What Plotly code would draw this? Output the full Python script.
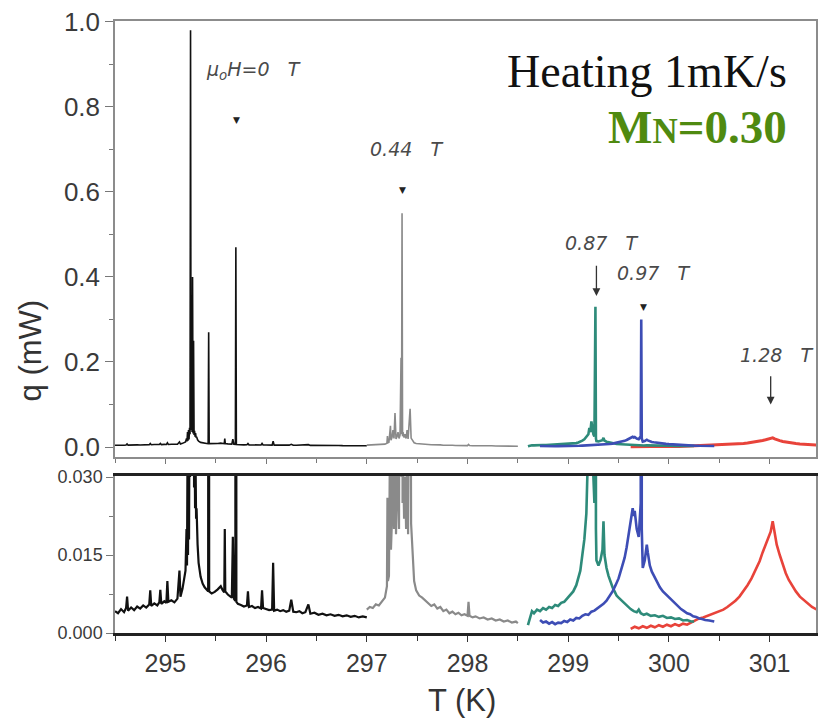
import plotly.graph_objects as go

# ---------------- data ----------------
T_0T = [294.50, 294.53, 294.56, 294.59, 294.61, 294.62, 294.63, 294.66, 294.69, 294.72,
        294.75, 294.78, 294.81, 294.84, 294.85, 294.86, 294.89, 294.92, 294.94, 294.95,
        294.96, 294.99, 295.01, 295.02, 295.03, 295.06, 295.09, 295.12, 295.14, 295.15,
        295.17, 295.19, 295.20, 295.21, 295.215, 295.22, 295.225, 295.23, 295.235, 295.24,
        295.245, 295.25, 295.255, 295.26, 295.265, 295.27, 295.275, 295.28, 295.285, 295.29,
        295.295, 295.30, 295.305, 295.31, 295.32, 295.33, 295.35, 295.37, 295.39, 295.41,
        295.425, 295.43, 295.435, 295.46, 295.49, 295.52, 295.55, 295.57, 295.585, 295.59,
        295.595, 295.62, 295.64, 295.66, 295.67, 295.68, 295.695, 295.70, 295.705, 295.72,
        295.75, 295.78, 295.81, 295.82, 295.83, 295.86, 295.89, 295.92, 295.95, 295.96,
        295.97, 296.00, 296.03, 296.06, 296.07, 296.08, 296.11, 296.14, 296.17, 296.20,
        296.23, 296.25, 296.27, 296.30, 296.33, 296.36, 296.39, 296.42, 296.44, 296.48,
        296.52, 296.56, 296.60, 296.64, 296.68, 296.72, 296.76, 296.80, 296.84, 296.88,
        296.92, 296.96, 297.00]
q_0T = [0.0042, 0.0038, 0.0046, 0.0040, 0.0048, 0.0070, 0.0043, 0.0049, 0.0044, 0.0051,
        0.0047, 0.0053, 0.0049, 0.0055, 0.0082, 0.0052, 0.0057, 0.0053, 0.0059, 0.0083,
        0.0056, 0.0061, 0.0058, 0.0100, 0.0060, 0.0063, 0.0059, 0.0066, 0.0120, 0.0070,
        0.0085, 0.0110, 0.0120, 0.0200, 0.0130, 0.0350, 0.0150, 0.0400, 0.0180, 0.0450,
        0.0300, 0.9800, 0.0400, 0.2600, 0.0350, 0.4000, 0.0320, 0.2500, 0.0280, 0.0380,
        0.0240, 0.0330, 0.0220, 0.0240, 0.0170, 0.0135, 0.0108, 0.0095, 0.0088, 0.0082,
        0.0080, 0.2700, 0.0080, 0.0076, 0.0079, 0.0084, 0.0090, 0.0082, 0.0078, 0.0200,
        0.0080, 0.0074, 0.0070, 0.0068, 0.0185, 0.0066, 0.0062, 0.4700, 0.0060, 0.0056,
        0.0054, 0.0051, 0.0053, 0.0080, 0.0050, 0.0052, 0.0048, 0.0050, 0.0047, 0.0082,
        0.0048, 0.0046, 0.0044, 0.0045, 0.0135, 0.0043, 0.0045, 0.0042, 0.0044, 0.0041,
        0.0043, 0.0064, 0.0041, 0.0040, 0.0042, 0.0038, 0.0040, 0.0055, 0.0037, 0.0039,
        0.0035, 0.0037, 0.0034, 0.0036, 0.0033, 0.0035, 0.0032, 0.0034, 0.0031, 0.0033,
        0.0030, 0.0032, 0.0030]

T_044T = [297.00, 297.03, 297.06, 297.09, 297.12, 297.15, 297.18, 297.20, 297.205, 297.21,
          297.22, 297.235, 297.24, 297.25, 297.26, 297.27, 297.28, 297.29, 297.30, 297.31,
          297.32, 297.33, 297.34, 297.345, 297.35, 297.355, 297.36, 297.37, 297.38, 297.39,
          297.40, 297.41, 297.43, 297.44, 297.45, 297.46, 297.47, 297.49, 297.52, 297.55,
          297.58, 297.61, 297.64, 297.67, 297.70, 297.73, 297.76, 297.79, 297.82, 297.85,
          297.88, 297.91, 297.94, 297.97, 298.00, 298.01, 298.02, 298.05, 298.08, 298.12,
          298.16, 298.20, 298.24, 298.28, 298.32, 298.36, 298.40, 298.44, 298.48, 298.50]
q_044T = [0.0045, 0.0050, 0.0048, 0.0055, 0.0053, 0.0060, 0.0068, 0.0090, 0.0260, 0.0100,
          0.0110, 0.0500, 0.0160, 0.0220, 0.0400, 0.0200, 0.0800, 0.0190, 0.0240, 0.0350,
          0.0200, 0.0280, 0.2100, 0.0300, 0.5500, 0.0250, 0.0350, 0.0220, 0.0300, 0.0200,
          0.0400, 0.0190, 0.0900, 0.0210, 0.0180, 0.0130, 0.0100, 0.0082, 0.0072, 0.0068,
          0.0062, 0.0058, 0.0052, 0.0055, 0.0047, 0.0050, 0.0042, 0.0045, 0.0038, 0.0041,
          0.0036, 0.0039, 0.0034, 0.0036, 0.0033, 0.0060, 0.0033, 0.0030, 0.0032, 0.0028,
          0.0030, 0.0026, 0.0028, 0.0024, 0.0026, 0.0022, 0.0024, 0.0020, 0.0022, 0.0019]

T_087T = [298.60, 298.62, 298.64, 298.66, 298.69, 298.72, 298.75, 298.78, 298.81, 298.84,
          298.87, 298.90, 298.93, 298.96, 298.99, 299.02, 299.05, 299.08, 299.10, 299.12,
          299.14, 299.16, 299.18, 299.20, 299.21, 299.22, 299.23, 299.24, 299.25, 299.26,
          299.27, 299.275, 299.28, 299.30, 299.32, 299.34, 299.35, 299.36, 299.38, 299.40,
          299.42, 299.44, 299.46, 299.48, 299.50, 299.53, 299.56, 299.59, 299.62, 299.65,
          299.68, 299.70, 299.72, 299.75, 299.78, 299.82, 299.86, 299.90, 299.94, 299.98,
          300.02, 300.06, 300.10, 300.14, 300.18, 300.22, 300.25]
q_087T = [0.0015, 0.0030, 0.0042, 0.0038, 0.0045, 0.0042, 0.0048, 0.0045, 0.0050, 0.0048,
          0.0054, 0.0052, 0.0058, 0.0060, 0.0066, 0.0072, 0.0080, 0.0092, 0.0105, 0.0120,
          0.0150, 0.0180, 0.0230, 0.0300, 0.0450, 0.0350, 0.0600, 0.0400, 0.0300, 0.0250,
          0.3300, 0.0200, 0.0140, 0.0130, 0.0140, 0.0160, 0.0215, 0.0150, 0.0125, 0.0110,
          0.0098, 0.0088, 0.0080, 0.0072, 0.0068, 0.0062, 0.0058, 0.0050, 0.0046, 0.0042,
          0.0040, 0.0045, 0.0038, 0.0035, 0.0037, 0.0033, 0.0034, 0.0031, 0.0033, 0.0029,
          0.0030, 0.0027, 0.0028, 0.0024, 0.0025, 0.0022, 0.0022]

T_097T = [298.72, 298.75, 298.78, 298.81, 298.84, 298.87, 298.90, 298.93, 298.96, 298.99,
          299.02, 299.05, 299.08, 299.11, 299.14, 299.17, 299.20, 299.23, 299.26, 299.29,
          299.32, 299.35, 299.38, 299.41, 299.44, 299.47, 299.50, 299.53, 299.56, 299.58,
          299.60, 299.62, 299.64, 299.65, 299.66, 299.68, 299.70, 299.72, 299.725, 299.73,
          299.74, 299.76, 299.78, 299.79, 299.81, 299.83, 299.85, 299.88, 299.91, 299.94,
          299.97, 300.00, 300.03, 300.06, 300.09, 300.12, 300.15, 300.18, 300.21, 300.24,
          300.27, 300.30, 300.33, 300.36, 300.40, 300.45]
q_097T = [0.0025, 0.0020, 0.0022, 0.0018, 0.0021, 0.0017, 0.0020, 0.0019, 0.0023, 0.0021,
          0.0026, 0.0024, 0.0029, 0.0028, 0.0033, 0.0036, 0.0035, 0.0041, 0.0043, 0.0047,
          0.0051, 0.0056, 0.0062, 0.0070, 0.0080, 0.0092, 0.0105, 0.0125, 0.0145, 0.0165,
          0.0190, 0.0215, 0.0240, 0.0225, 0.0235, 0.0200, 0.0185, 0.0250, 0.3000, 0.0200,
          0.0125, 0.0140, 0.0170, 0.0155, 0.0130, 0.0118, 0.0110, 0.0098, 0.0088, 0.0080,
          0.0074, 0.0068, 0.0062, 0.0056, 0.0050, 0.0046, 0.0042, 0.0038, 0.0036, 0.0032,
          0.0031, 0.0028, 0.0027, 0.0025, 0.0024, 0.0022]

T_128T = [299.62, 299.66, 299.70, 299.74, 299.78, 299.82, 299.86, 299.90, 299.94, 299.98,
          300.02, 300.06, 300.10, 300.14, 300.18, 300.22, 300.26, 300.30, 300.34, 300.38,
          300.42, 300.46, 300.50, 300.54, 300.58, 300.62, 300.66, 300.70, 300.74, 300.78,
          300.82, 300.86, 300.90, 300.93, 300.96, 300.99, 301.01, 301.03, 301.05, 301.07,
          301.10, 301.13, 301.16, 301.19, 301.22, 301.26, 301.30, 301.34, 301.38, 301.42,
          301.46, 301.50]
q_128T = [0.0008, 0.0012, 0.0009, 0.0013, 0.0010, 0.0014, 0.0011, 0.0015, 0.0012, 0.0016,
          0.0013, 0.0017, 0.0014, 0.0018, 0.0016, 0.0020, 0.0024, 0.0028, 0.0030, 0.0033,
          0.0036, 0.0038, 0.0042, 0.0045, 0.0050, 0.0056, 0.0062, 0.0070, 0.0080, 0.0092,
          0.0105, 0.0120, 0.0138, 0.0155, 0.0170, 0.0185, 0.0195, 0.0215, 0.0190, 0.0170,
          0.0150, 0.0130, 0.0115, 0.0102, 0.0092, 0.0080, 0.0070, 0.0063, 0.0056, 0.0050,
          0.0046, 0.0042]

# name, T, q, colour, width top panel, width bottom panel
series = [
    ("0 T", T_0T, q_0T, "#111111", 1.6, 2.2),
    ("0.44 T", T_044T, q_044T, "#8a8a8a", 1.6, 2.2),
    ("1.28 T", T_128T, q_128T, "#e8433a", 3.0, 2.6),
    ("0.87 T", T_087T, q_087T, "#2e8b7a", 2.6, 2.6),
    ("0.97 T", T_097T, q_097T, "#3d4db5", 2.6, 2.6),
]

fig = go.Figure()
for name, xs, ys, col, w1, w2 in series:
    for xa, ya, w in (("x", "y", w1), ("x2", "y2", w2)):
        fig.add_trace(go.Scatter(x=xs, y=ys, mode="lines", name=name, showlegend=False,
                                 line=dict(color=col, width=w), xaxis=xa, yaxis=ya))

XR = [294.5, 301.46]
tickfont_big = dict(family="Liberation Sans, Arial", size=26, color="#3a3a3a")
fig.update_layout(
    width=821, height=723,
    margin=dict(l=115, r=3, t=21, b=90),
    paper_bgcolor="white", plot_bgcolor="white",
    xaxis=dict(domain=[0, 1], anchor="y", range=XR, showticklabels=False,
               showgrid=False, zeroline=False, dtick=1, tick0=295,
               ticks="outside", ticklen=5, tickcolor="#777",
               minor=dict(ticks="outside", dtick=0.5, tick0=294.5, ticklen=4, tickcolor="#777"),
               showline=True, linecolor="#8c8c8c", linewidth=1.5, mirror=True),
    yaxis=dict(domain=[0.2876, 1], anchor="x", range=[-0.0235, 1.002],
               dtick=0.2, tick0=0, tickformat=".1f", showgrid=False, zeroline=False,
               ticks="outside", ticklen=8, tickcolor="#777", tickfont=tickfont_big,
               minor=dict(ticks="outside", dtick=0.1, tick0=0, ticklen=4, tickcolor="#777"),
               showline=True, linecolor="#8c8c8c", linewidth=1.5, mirror=True),
    xaxis2=dict(domain=[0, 1], anchor="y2", range=XR, dtick=1, tick0=295,
                showgrid=False, zeroline=False,
                ticks="outside", ticklen=6, tickcolor="#333",
                tickfont=dict(family="Liberation Sans, Arial", size=25, color="#3a3a3a"),
                minor=dict(ticks="outside", dtick=0.5, tick0=294.5, ticklen=5, tickcolor="#333"),
                showline=True, linecolor="#222222", linewidth=3, mirror=True),
    yaxis2=dict(domain=[0, 0.2565], anchor="x2", range=[0, 0.0302],
                tickvals=[0, 0.015, 0.030], ticktext=["0.000", "0.015", "0.030"],
                showgrid=False, zeroline=False,
                ticks="outside", ticklen=7, tickcolor="#777",
                tickfont=dict(family="Liberation Sans, Arial", size=18, color="#3a3a3a"),
                minor=dict(ticks="outside", dtick=0.0075, tick0=0, ticklen=4, tickcolor="#777"),
                showline=True, linecolor="#8c8c8c", linewidth=1.5, mirror=True),
)

lab = dict(family="DejaVu Sans", size=19, color="#4a4a4a")
S = "\u00a0\u00a0\u00a0"
tri = dict(family="DejaVu Sans", size=9, color="#222")
annos = [
    # axis titles
    dict(text="q (mW)", xref="paper", yref="paper", x=-0.121, y=0.462, showarrow=False,
         xanchor="center", yanchor="middle", textangle=-90,
         font=dict(family="Liberation Sans, Arial", size=31, color="#333")),
    dict(text="T (K)", xref="paper", yref="paper", x=0.495, y=-0.11, showarrow=False,
         xanchor="center", yanchor="middle",
         font=dict(family="Liberation Sans, Arial", size=31, color="#333")),
    # header text
    dict(text="Heating 1mK/s", xref="paper", yref="paper", x=0.962, y=0.917,
         xanchor="right", yanchor="middle", showarrow=False,
         font=dict(family="Liberation Serif", size=46, color="#111")),
    dict(text="<b>M<span style='font-size:35px'>N</span>=0.30</b>", xref="paper", yref="paper",
         x=0.962, y=0.826, xanchor="right", yanchor="middle", showarrow=False,
         font=dict(family="Liberation Serif", size=47, color="#4f8a10")),
    # field labels
    dict(text="<i>\u03bc<sub>o</sub>H=0" + S + "T</i>", x=295.88, y=0.885, xref="x", yref="y",
         showarrow=False, font=lab),
    dict(text="<i>0.44" + S + "T</i>", x=297.39, y=0.70, xref="x", yref="y", showarrow=False, font=lab),
    dict(text="<i>0.87" + S + "T</i>", x=299.33, y=0.48, xref="x", yref="y", showarrow=False, font=lab),
    dict(text="<i>0.97" + S + "T</i>", x=299.85, y=0.41, xref="x", yref="y", showarrow=False, font=lab),
    dict(text="<i>1.28" + S + "T</i>", x=301.07, y=0.216, xref="x", yref="y", showarrow=False, font=lab),
    # small triangle markers
    dict(text="\u25bc", x=295.71, y=0.77, xref="x", yref="y", showarrow=False, font=tri),
    dict(text="\u25bc", x=297.35, y=0.605, xref="x", yref="y", showarrow=False, font=tri),
    dict(text="\u25bc", x=299.75, y=0.33, xref="x", yref="y", showarrow=False, font=tri),
    # arrows
    dict(text="", x=299.28, y=0.355, ax=299.28, ay=0.43, xref="x", yref="y",
         axref="x", ayref="y", showarrow=True, arrowhead=2, arrowsize=1.2,
         arrowwidth=1.3, arrowcolor="#333"),
    dict(text="", x=301.01, y=0.10, ax=301.01, ay=0.17, xref="x", yref="y",
         axref="x", ayref="y", showarrow=True, arrowhead=2, arrowsize=1.2,
         arrowwidth=1.3, arrowcolor="#333"),
]
fig.update_layout(annotations=annos)

fig.write_html("out.html")
